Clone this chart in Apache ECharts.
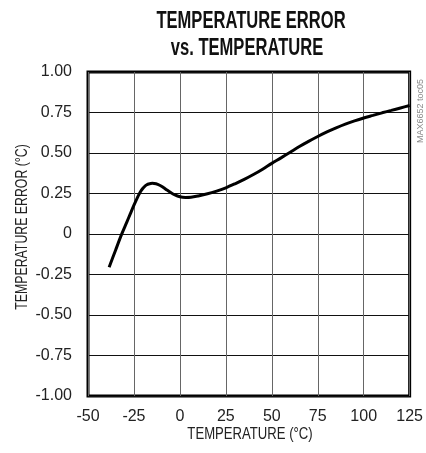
<!DOCTYPE html>
<html>
<head>
<meta charset="utf-8">
<script src="https://cdn.jsdelivr.net/npm/echarts@6/dist/echarts.min.js"></script>
<style>
html,body{margin:0;padding:0;background:#fff;}
#chart{width:426px;height:453px;}
</style>
</head>
<body>
<div id="chart"></div>
<script>
// Data
var temps  = [-38.5, -35, -32, -29, -27, -25, -23, -22, -21, -20, -19, -18, -17, -15, -13, -11, -9, -7, -5, -3, 0, 3, 6, 10, 15, 20, 25, 30, 35, 40, 45, 50, 55, 60, 65, 70, 75, 80, 85, 90, 95, 100, 105, 110, 115, 120, 125];
var errors = [-0.205, -0.10, -0.01, 0.07, 0.124, 0.178, 0.228, 0.25, 0.269, 0.284, 0.296, 0.304, 0.309, 0.313, 0.31, 0.301, 0.287, 0.271, 0.256, 0.243, 0.23, 0.226, 0.227, 0.235, 0.248, 0.265, 0.285, 0.31, 0.337, 0.367, 0.40, 0.436, 0.47, 0.505, 0.54, 0.572, 0.602, 0.63, 0.655, 0.678, 0.698, 0.716, 0.732, 0.748, 0.763, 0.778, 0.793];
var xTickLabels = ['-50', '-25', '0', '25', '50', '75', '100', '125'];
var yTickLabels = ['-1.00', '-0.75', '-0.50', '-0.25', '0', '0.25', '0.50', '0.75', '1.00'];
var titleLines = ['TEMPERATURE ERROR', 'vs. TEMPERATURE'];
var xAxisTitle = 'TEMPERATURE (°C)';
var yAxisTitle = 'TEMPERATURE ERROR (°C)';
var figureId = 'MAX6652 toc05';

var FONT = '"Liberation Sans", Arial, sans-serif';
var chart = echarts.init(document.getElementById('chart'), null, {renderer: 'canvas'});
var pts = temps.map(function (t, i) { return [t, errors[i]]; });

chart.setOption({
  animation: false,
  backgroundColor: '#fff',
  grid: {left: 88, right: 13, top: 72, bottom: 57, show: true, borderColor: '#000', borderWidth: 3, backgroundColor: 'transparent'},
  xAxis: {
    type: 'value', min: -50, max: 125, interval: 25,
    axisLine: {show: false}, axisTick: {show: false},
    axisLabel: {margin: 13, fontFamily: FONT, fontSize: 16, color: '#222',
      formatter: function (v) { return xTickLabels[Math.round((v + 50) / 25)]; }},
    splitLine: {show: true, lineStyle: {color: '#666', width: 1}}
  },
  yAxis: {
    type: 'value', min: -1, max: 1, interval: 0.25,
    axisLine: {show: false}, axisTick: {show: false},
    axisLabel: {margin: 16, fontFamily: FONT, fontSize: 16, color: '#222',
      formatter: function (v) { return yTickLabels[Math.round((v + 1) / 0.25)]; }},
    splitLine: {show: true, lineStyle: {color: '#111', width: 1}}
  },
  graphic: [
    {type: 'text', x: 251, y: 10, scaleX: 0.72,
     style: {text: titleLines[0], fontFamily: FONT, fontWeight: 'bold', fontSize: 23, fill: '#111', align: 'center', verticalAlign: 'top'}},
    {type: 'text', x: 247, y: 37, scaleX: 0.72,
     style: {text: titleLines[1], fontFamily: FONT, fontWeight: 'bold', fontSize: 23, fill: '#111', align: 'center', verticalAlign: 'top'}},
    {type: 'text', x: 250, y: 435, scaleX: 0.82,
     style: {text: xAxisTitle, fontFamily: FONT, fontSize: 16, fill: '#222', align: 'center', verticalAlign: 'middle'}},
    {type: 'text', x: 23, y: 227, rotation: Math.PI / 2, scaleX: 0.77,
     style: {text: yAxisTitle, fontFamily: FONT, fontSize: 16, fill: '#222', align: 'center', verticalAlign: 'middle'}},
    {type: 'text', x: 421, y: 111, rotation: Math.PI / 2,
     style: {text: figureId, fontFamily: FONT, fontSize: 9, fill: '#888', align: 'center', verticalAlign: 'middle'}}
  ],
  series: [{
    type: 'line', data: pts, smooth: 0.3, showSymbol: false,
    lineStyle: {color: '#000', width: 3}, z: 5
  }]
});
</script>
</body>
</html>
